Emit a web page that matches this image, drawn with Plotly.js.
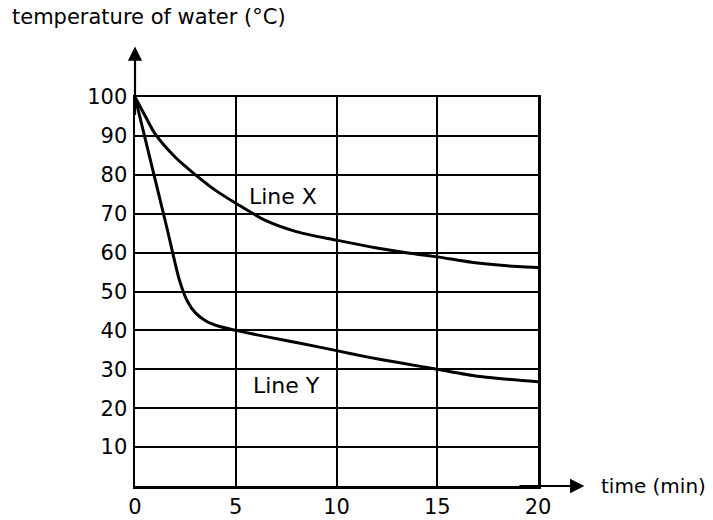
<!DOCTYPE html>
<html>
<head>
<meta charset="utf-8">
<script src="https://cdn.plot.ly/plotly-3.0.1.min.js"></script>
<style>html,body{margin:0;padding:0;background:#fff;}#chart{width:713px;height:520px;}</style>
</head>
<body>
<div id="chart"></div>
<script>
// time (min) and temperature (°C)
const lineXTime = [0, 0.5, 1, 2, 3, 4, 5, 6.5, 8, 10, 12, 14, 15, 17, 19, 20];
const lineXTemp = [100, 95.2, 90.5, 84.5, 80, 76, 72.7, 68.2, 65.4, 63.2, 61.2, 59.6, 58.9, 57.3, 56.4, 56.2];
const lineYTime = [0, 0.8, 1.6, 2.2, 2.6, 3.0, 3.5, 4.2, 5, 6.5, 8.2, 10, 11.5, 13, 15, 17, 20];
const lineYTemp = [100, 83, 66, 53, 47.5, 44.5, 42.5, 41, 40, 38.4, 36.7, 34.8, 33.2, 31.8, 30, 28.2, 26.8];
const xTickVals = [0, 5, 10, 15, 20];
const yTickVals = [10, 20, 30, 40, 50, 60, 70, 80, 90, 100];
const seriesNames = ["Line X", "Line Y"];
const labelPos = [[7.35, 74.3], [7.54, 25.8]];

const FONT = "DejaVu Sans, Liberation Sans, Arial, sans-serif";

const traces = [
  {x: lineXTime, y: lineXTemp, name: seriesNames[0], mode: "lines",
   line: {color: "#000", width: 3, shape: "spline", smoothing: 0.8}},
  {x: lineYTime, y: lineYTemp, name: seriesNames[1], mode: "lines",
   line: {color: "#000", width: 3, shape: "spline", smoothing: 0.7}}
];

const layout = {
  width: 713, height: 520,
  margin: {l: 135, r: 175, t: 97, b: 34, pad: 0},
  paper_bgcolor: "#fff", plot_bgcolor: "#fff",
  showlegend: false,
  font: {family: FONT, size: 21, color: "#000"},
  xaxis: {
    range: [0, 20], tickvals: xTickVals, ticktext: xTickVals.map(String),
    showgrid: true, gridcolor: "#000", gridwidth: 2,
    showline: true, linecolor: "#000", linewidth: 2.5, mirror: true,
    zeroline: false, ticks: "", ticklabelstandoff: 0,
    tickfont: {family: FONT, size: 21, color: "#000"}, fixedrange: true
  },
  yaxis: {
    range: [0, 100], tickvals: yTickVals, ticktext: yTickVals.map(String),
    showgrid: true, gridcolor: "#000", gridwidth: 2,
    showline: true, linecolor: "#000", linewidth: 2.5, mirror: true,
    zeroline: false, ticks: "", ticklabelstandoff: 1,
    tickfont: {family: FONT, size: 21, color: "#000"}, fixedrange: true
  },
  annotations: [
    {x: 22.3, y: 0, ax: 19, ay: 0, xref: "x", yref: "y", axref: "x", ayref: "y",
     showarrow: true, arrowhead: 2, arrowsize: 1.3, arrowwidth: 2.2, arrowcolor: "#000", text: ""},
    {x: 0, y: 113, ax: 0, ay: 95, xref: "x", yref: "y", axref: "x", ayref: "y",
     showarrow: true, arrowhead: 2, arrowsize: 1.3, arrowwidth: 2.2, arrowcolor: "#000", text: ""},
    {x: -0.31, y: 1.206, xref: "paper", yref: "paper", xanchor: "left", yanchor: "middle",
     showarrow: false, text: "temperature of water (°C)", font: {family: FONT, size: 21, color: "#000"}},
    {x: 1.152, y: 0.0, xref: "paper", yref: "paper", xanchor: "left", yanchor: "middle",
     showarrow: false, text: "time (min)", font: {family: FONT, size: 20, color: "#000"}},
    {x: labelPos[0][0], y: labelPos[0][1], xref: "x", yref: "y", showarrow: false,
     text: seriesNames[0], font: {family: FONT, size: 22, color: "#000"}},
    {x: labelPos[1][0], y: labelPos[1][1], xref: "x", yref: "y", showarrow: false,
     text: seriesNames[1], font: {family: FONT, size: 22, color: "#000"}}
  ]
};

Plotly.newPlot("chart", traces, layout, {staticPlot: true, displayModeBar: false});
</script>
</body>
</html>
